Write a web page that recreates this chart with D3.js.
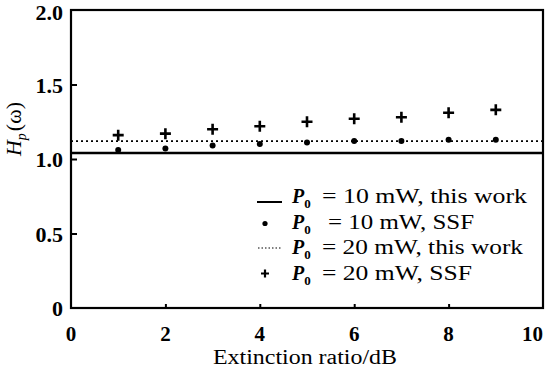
<!DOCTYPE html>
<html>
<head>
	<meta charset="utf-8">
	<script src="https://d3js.org/d3.v7.min.js"></script>
	<style>
		body { margin: 0; background: #fff; }
		svg { display: block; font-family: "Liberation Serif", "DejaVu Serif", serif; }
	</style>
</head>
<body>
<script>
	// data
	var extinction = [1, 2, 3, 4, 5, 6, 7, 8, 9];
	var ssf10 = [1.06, 1.07, 1.09, 1.10, 1.11, 1.12, 1.12, 1.13, 1.13];
	var ssf20 = [1.16, 1.17, 1.20, 1.22, 1.25, 1.27, 1.28, 1.31, 1.33];
	var workX = [0, 10];
	var work10 = [1.04, 1.04];
	var work20 = [1.12, 1.12];
	var xTicks = [0, 2, 4, 6, 8, 10];
	var yTicks = [0, 0.5, 1.0, 1.5, 2.0];
	var yTickLabels = ["0", "0.5", "1.0", "1.5", "2.0"];
	var legendLabels = ["= 10 mW, this work", "= 10 mW, SSF", "= 20 mW, this work", "= 20 mW, SSF"];
	var legendWidths = [205, 146, 201, 150];

	var width = 548, height = 369;
	var margin = {left: 71, right: 5, top: 10, bottom: 61};

	var svg = d3.select("body").append("svg")
		.attr("width", width)
		.attr("height", height);

	var x = d3.scaleLinear().domain([0, 10]).range([margin.left, width - margin.right]);
	var y = d3.scaleLinear().domain([0, 2]).range([height - margin.bottom, margin.top]);

	// frame
	svg.append("rect")
		.attr("x", x(0)).attr("y", y(2))
		.attr("width", x(10) - x(0)).attr("height", y(0) - y(2))
		.attr("fill", "none").attr("stroke", "#000").attr("stroke-width", 2.2);

	// axes, ticks pointing inside
	var xAxis = d3.axisTop(x).tickValues(xTicks.slice(1, -1)).tickSize(4).tickFormat("");
	svg.append("g").attr("transform", "translate(0," + y(0) + ")").call(xAxis)
		.call(function(g) { g.select(".domain").remove(); })
		.selectAll("line").attr("stroke-width", 2);

	var yAxis = d3.axisRight(y).tickValues([0.5, 1.0, 1.5]).tickSize(6).tickFormat("");
	svg.append("g").attr("transform", "translate(" + x(0) + ",0)").call(yAxis)
		.call(function(g) { g.select(".domain").remove(); })
		.selectAll("line").attr("stroke-width", 2);

	// tick labels
	svg.selectAll(".xlab").data(xTicks).enter().append("text")
		.attr("x", function(d) { return d === 10 ? x(d) : x(d); })
		.attr("y", 341)
		.attr("text-anchor", function(d) { return d === 10 ? "end" : "middle"; })
		.attr("font-size", 21).attr("font-weight", "bold")
		.text(function(d) { return d; });

	svg.selectAll(".ylab").data(yTicks).enter().append("text")
		.attr("x", 63)
		.attr("y", function(d) { return d === 2 ? y(d) + 10 : y(d) + 8; })
		.attr("text-anchor", "end")
		.attr("font-size", 22).attr("font-weight", "bold")
		.text(function(d, i) { return yTickLabels[i]; });

	// axis titles
	svg.append("text")
		.attr("x", 213).attr("y", 364)
		.attr("font-size", 20)
		.attr("textLength", 184).attr("lengthAdjust", "spacingAndGlyphs")
		.text("Extinction ratio/dB");

	var yt = svg.append("text")
		.attr("transform", "translate(21,129) rotate(-90)")
		.attr("text-anchor", "middle")
		.attr("font-size", 22);
	yt.append("tspan").attr("font-style", "italic").text("H");
	yt.append("tspan").attr("font-size", 14).attr("dy", 5).attr("font-style", "italic").text("p");
	yt.append("tspan").attr("dy", -5).attr("dx", 2).text("(ω)");

	// lines
	var line = d3.line()
		.x(function(d) { return x(d[0]); })
		.y(function(d) { return y(d[1]); });

	svg.append("path")
		.datum(d3.zip(workX, work10))
		.attr("d", line)
		.attr("stroke", "#000").attr("stroke-width", 2.6).attr("fill", "none");

	svg.append("path")
		.datum(d3.zip(workX, work20))
		.attr("d", line)
		.attr("stroke", "#000").attr("stroke-width", 1.6)
		.attr("stroke-dasharray", "2,3").attr("fill", "none");

	// markers
	svg.selectAll(".dot").data(d3.zip(extinction, ssf10)).enter().append("circle")
		.attr("cx", function(d) { return x(d[0]); })
		.attr("cy", function(d) { return y(d[1]); })
		.attr("r", 3).attr("fill", "#000");

	svg.selectAll(".plus").data(d3.zip(extinction, ssf20)).enter().append("path")
		.attr("d", "M-5.5,0H5.5M0,-5.5V5.5")
		.attr("transform", function(d) { return "translate(" + x(d[0]) + "," + y(d[1]) + ")"; })
		.attr("stroke", "#000").attr("stroke-width", 2.6);

	// legend
	var legend = svg.append("g").attr("transform", "translate(257,197)");
	var row = legend.selectAll("g").data(legendLabels).enter().append("g")
		.attr("transform", function(d, i) { return "translate(0," + (i * 25.5) + ")"; });

	row.each(function(d, i) {
		var g = d3.select(this);
		if (i === 0) {
			g.append("line").attr("x1", 0).attr("x2", 25).attr("y1", 5).attr("y2", 5)
				.attr("stroke", "#000").attr("stroke-width", 2);
		} else if (i === 1) {
			g.append("circle").attr("cx", 8).attr("cy", 1).attr("r", 2.6).attr("fill", "#000");
		} else if (i === 2) {
			g.append("line").attr("x1", 1).attr("x2", 25).attr("y1", 0).attr("y2", 0)
				.attr("stroke", "#000").attr("stroke-width", 1).attr("stroke-dasharray", "1.5,2");
		} else {
			g.append("path").attr("d", "M4,0H12M8,-4V4").attr("stroke", "#000").attr("stroke-width", 2.2);
		}
		var p = g.append("text").attr("x", 35).attr("y", 6).attr("font-size", 20)
			.attr("font-weight", "bold");
		p.append("tspan").attr("font-style", "italic").text("P");
		p.append("tspan").attr("font-size", 13).attr("dy", 5).text("0");
		g.append("text")
			.attr("x", i === 1 ? 71 : 65).attr("y", 6)
			.attr("font-size", 20)
			.attr("textLength", legendWidths[i]).attr("lengthAdjust", "spacingAndGlyphs")
			.text(d);
	});
</script>
</body>
</html>
